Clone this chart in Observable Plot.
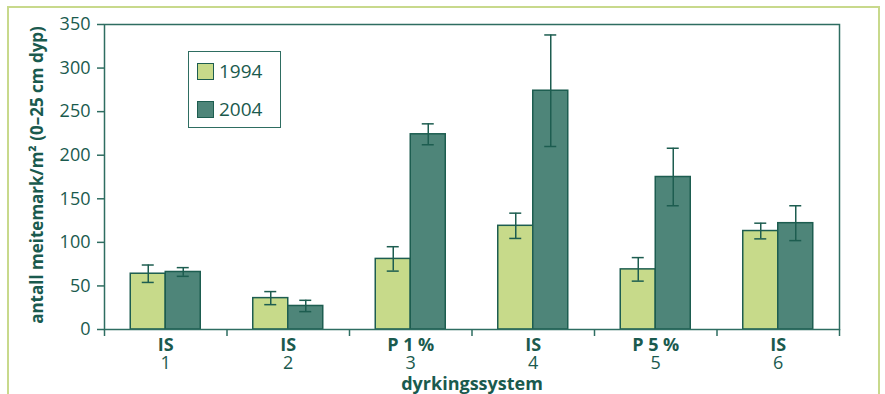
<!DOCTYPE html>
<html>
<head>
<meta charset="utf-8">
<script src="https://cdn.jsdelivr.net/npm/d3@7"></script>
<script src="https://cdn.jsdelivr.net/npm/@observablehq/plot@0.6"></script>
<style>
  html, body { margin: 0; padding: 0; background: #fff; }
  #wrap { position: relative; width: 885px; height: 394px; overflow: hidden; font-family: "Open Sans", sans-serif; }
  #border { position: absolute; left: 7px; top: 6px; width: 873px; height: 420px;
            border: 2px solid #c8d98c; border-bottom: none; box-sizing: border-box; }
  #chart { position: absolute; left: 0; top: 0; }
  #legend { position: absolute; left: 188px; top: 51px; width: 93px; height: 77px; box-sizing: border-box;
            border: 1.5px solid #2e6d61; background: #fff; color: #1a5a4e; font-size: 19px; }
  .item { position: absolute; left: 8px; display: flex; align-items: center; }
  .sw { width: 17px; height: 17px; box-sizing: border-box; border: 1.5px solid #1d5d50; margin-right: 5px; }
</style>
</head>
<body>
<div id="wrap">
  <div id="border"></div>
  <div id="chart"></div>
  <div id="legend"></div>
</div>
<script>
// Earthworm counts per cropping system, 1994 vs 2004
const systems = ["IS", "IS", "P 1 %", "IS", "P 5 %", "IS"];
const systemNumbers = ["1", "2", "3", "4", "5", "6"];
const years = ["1994", "2004"];
const values1994 = [64, 36, 81, 119, 69, 113];
const errors1994 = [10, 7.5, 14, 14.5, 13.5, 9];
const values2004 = [66, 27, 224, 274, 175, 122];
const errors2004 = [5, 6.5, 12, 64, 33, 20];
const yTicks = [0, 50, 100, 150, 200, 250, 300, 350];

const yearColors = {"1994": "#c7da8a", "2004": "#4e8579"};
const ink = "#1a5a4e";
const axisInk = "#2e6d61";
const barEdge = "#1d5d50";

// each group occupies one unit on x; the two bars sit side by side around its centre
const barW = 35 / 122.5;
const capHalf = 6 / 122.5;

const rows = [];
systems.forEach((s, i) => {
  const pos = i + 1;
  rows.push({pos, year: "1994", x1: pos - barW, x2: pos, xc: pos - barW / 2, value: values1994[i], err: errors1994[i]});
  rows.push({pos, year: "2004", x1: pos, x2: pos + barW, xc: pos + barW / 2, value: values2004[i], err: errors2004[i]});
});
const groups = systems.map((s, i) => ({pos: i + 1, name: s, num: systemNumbers[i]}));
const boundaries = d3.range(systems.length + 1).map(i => i + 0.5);

const chart = Plot.plot({
  width: 885,
  height: 394,
  marginLeft: 104,
  marginRight: 46,
  marginTop: 24,
  marginBottom: 65,
  style: {fontFamily: "Open Sans, sans-serif", color: axisInk, background: "transparent"},
  x: {domain: [0.5, systems.length + 0.5], axis: null},
  y: {domain: [0, 350], axis: null},
  marks: [
    Plot.rectY(rows, {x1: "x1", x2: "x2", y1: 0, y2: "value", fill: d => yearColors[d.year], stroke: barEdge, strokeWidth: 1.5}),
    Plot.ruleX(rows, {x: "xc", y1: d => d.value - d.err, y2: d => d.value + d.err, stroke: barEdge, strokeWidth: 1.5}),
    Plot.ruleY(rows, {x1: d => d.xc - capHalf, x2: d => d.xc + capHalf, y: d => d.value + d.err, stroke: barEdge, strokeWidth: 1.5}),
    Plot.ruleY(rows, {x1: d => d.xc - capHalf, x2: d => d.xc + capHalf, y: d => d.value - d.err, stroke: barEdge, strokeWidth: 1.5}),
    Plot.frame({stroke: axisInk, strokeWidth: 1.5}),
    Plot.axisY({ticks: yTicks, tickSize: 7, tickPadding: 7, fontSize: 18, fill: ink, stroke: axisInk, strokeWidth: 1.5, label: null}),
    Plot.axisX({ticks: boundaries, tickSize: 7, tickFormat: () => "", stroke: axisInk, strokeWidth: 1.5, label: null}),
    Plot.text(groups, {x: "pos", text: "name", frameAnchor: "bottom", lineAnchor: "middle", dy: 16, fontSize: 18, fontWeight: "bold", fill: ink}),
    Plot.text(groups, {x: "pos", text: "num", frameAnchor: "bottom", lineAnchor: "middle", dy: 34, fontSize: 18, fill: ink}),
    Plot.text(["dyrkingssystem"], {frameAnchor: "bottom", lineAnchor: "middle", dy: 55, fontSize: 18, fontWeight: "bold", fill: ink}),
    Plot.text(["antall meitemark/m² (0–25 cm dyp)"], {frameAnchor: "left", textAnchor: "middle", lineAnchor: "middle", dx: -67, dy: -2, rotate: -90, fontSize: 17, fontWeight: "bold", fill: ink})
  ]
});
document.getElementById("chart").appendChild(chart);

// legend
const legend = document.getElementById("legend");
years.forEach((y, i) => {
  const item = document.createElement("div");
  item.className = "item";
  item.style.top = (i === 0 ? 6 : 44) + "px";
  const sw = document.createElement("div");
  sw.className = "sw";
  sw.style.background = yearColors[y];
  const label = document.createElement("span");
  label.textContent = y;
  item.appendChild(sw);
  item.appendChild(label);
  legend.appendChild(item);
});
</script>
</body>
</html>
